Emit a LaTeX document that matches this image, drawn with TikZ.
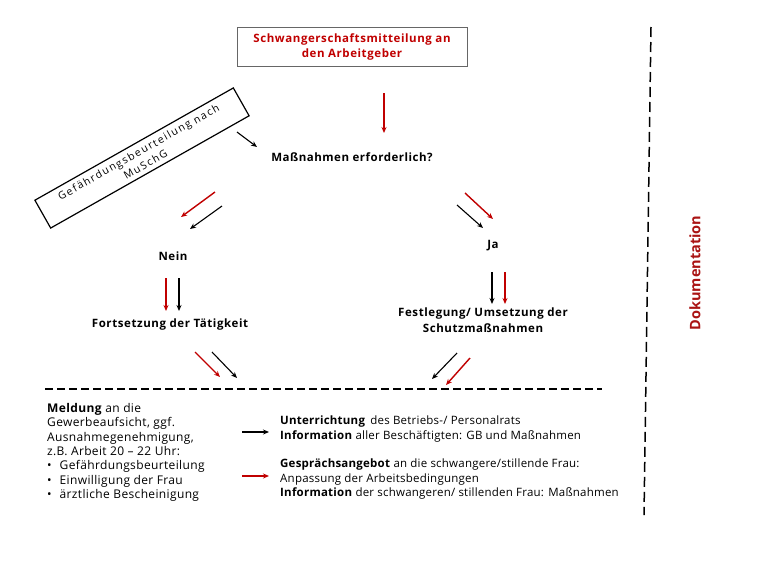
\documentclass[tikz,border=0pt]{standalone}
\usepackage{fontspec}
\setmainfont{Open Sans}
\usetikzlibrary{arrows.meta}
\definecolor{dred}{RGB}{192,0,0}
\definecolor{docred}{RGB}{170,20,20}
\tikzset{
  txt/.style={font=\fontsize{11.5}{14.5}\selectfont\addfontfeatures{LetterSpace=2}, inner sep=0pt, align=left},
  btxt/.style={font=\fontsize{11.5}{16}\selectfont\bfseries\addfontfeatures{LetterSpace=5}, inner sep=0pt, align=center},
  arr/.style={line width=1.1pt, -{Stealth[length=6pt,width=5pt]}},
  rarr/.style={arr, dred, line width=1.4pt},
  barr/.style={arr, black},
}
\begin{document}
\begin{tikzpicture}[x=1pt,y=-1pt]
\useasboundingbox (0,0) rectangle (768,576);
% top box
\node[draw=gray!80!black, line width=0.8pt, minimum width=230pt, minimum height=39pt,
      btxt, font=\fontsize{11.5}{15}\selectfont\bfseries\addfontfeatures{LetterSpace=5}, text=dred] (notice) at (352,47)
  {Schwangerschaftsmitteilung an\\den Arbeitgeber};
\draw[rarr] (384,93) -- (384,133);
% rotated box
\node[draw, line width=1.2pt, rotate=29.5, minimum width=228pt, minimum height=32pt, inner sep=1pt,
      font=\fontsize{10.5}{14}\selectfont\addfontfeatures{LetterSpace=14}, align=center] (gb) at (142,158)
  {Gefährdungsbeurteilung nach\\MuSchG};
\draw[barr] (237,132) -- (257,147);
% decision
\node[btxt, font=\fontsize{11.5}{16}\selectfont\bfseries\addfontfeatures{LetterSpace=4.5}] (q) at (352,157) {Maßnahmen erforderlich?};
\draw[rarr] (215,192) -- (181,217);
\draw[barr] (222,206) -- (190,229);
\draw[barr] (457,205) -- (483,228);
\draw[rarr] (465,193) -- (493,219);
\node[btxt] (nein) at (173,256) {Nein};
\node[btxt] (ja) at (493,246) {Ja};
\draw[rarr] (166,278) -- (166,311);
\draw[barr] (179,278) -- (179,311);
\draw[barr] (492,272) -- (492,304);
\draw[rarr] (505,272) -- (505,304);
\node[btxt] (fort) at (170,325) {Fortsetzung der Tätigkeit};
\node[btxt] (fest) at (483,320) {Festlegung/ Umsetzung der\\Schutzmaßnahmen};
\draw[rarr] (195,352) -- (220,377);
\draw[barr] (212,352) -- (237,378);
\draw[barr] (457,353) -- (432,379);
\draw[rarr] (470,358) -- (446,385);
% dashed lines
\draw[line width=1.5pt, dash pattern=on 8pt off 4pt] (45,389) -- (602,389);
\draw[line width=1.5pt, dash pattern=on 10pt off 5pt] (651,27) -- (644,515);
\node[rotate=90, text=docred, font=\fontsize{14.5}{16}\selectfont\bfseries, inner sep=0pt] (doc) at (695,273) {Dokumentation};
% bottom left
\node[txt, font=\fontsize{12}{14.4}\selectfont\addfontfeatures{LetterSpace=3}, anchor=north west] (meld) at (47,403) {\textbf{Meldung} an die\\Gewerbeaufsicht, ggf.\\Ausnahmegenehmigung,\\z.B. Arbeit 20 -- 22 Uhr:\\
\textbullet\hspace{8pt}Gefährdungsbeurteilung\\\textbullet\hspace{8pt}Einwilligung der Frau\\\textbullet\hspace{8pt}ärztliche Bescheinigung};
% legend
\draw[barr] (242,432) -- (269,432);
\draw[rarr] (242,476) -- (269,476);
\node[txt, anchor=north west] (l1) at (280,416) {\textbf{Unterrichtung}\, des Betriebs-/ Personalrats\\\textbf{Information} aller Beschäftigten: GB und Maßnahmen};
\node[txt, anchor=north west] (l2) at (280,459) {\textbf{Gesprächsangebot} an die schwangere/stillende Frau:\\Anpassung der Arbeitsbedingungen\\\textbf{Information} der schwangeren/ stillenden Frau: Maßnahmen};
\end{tikzpicture}
\end{document}
